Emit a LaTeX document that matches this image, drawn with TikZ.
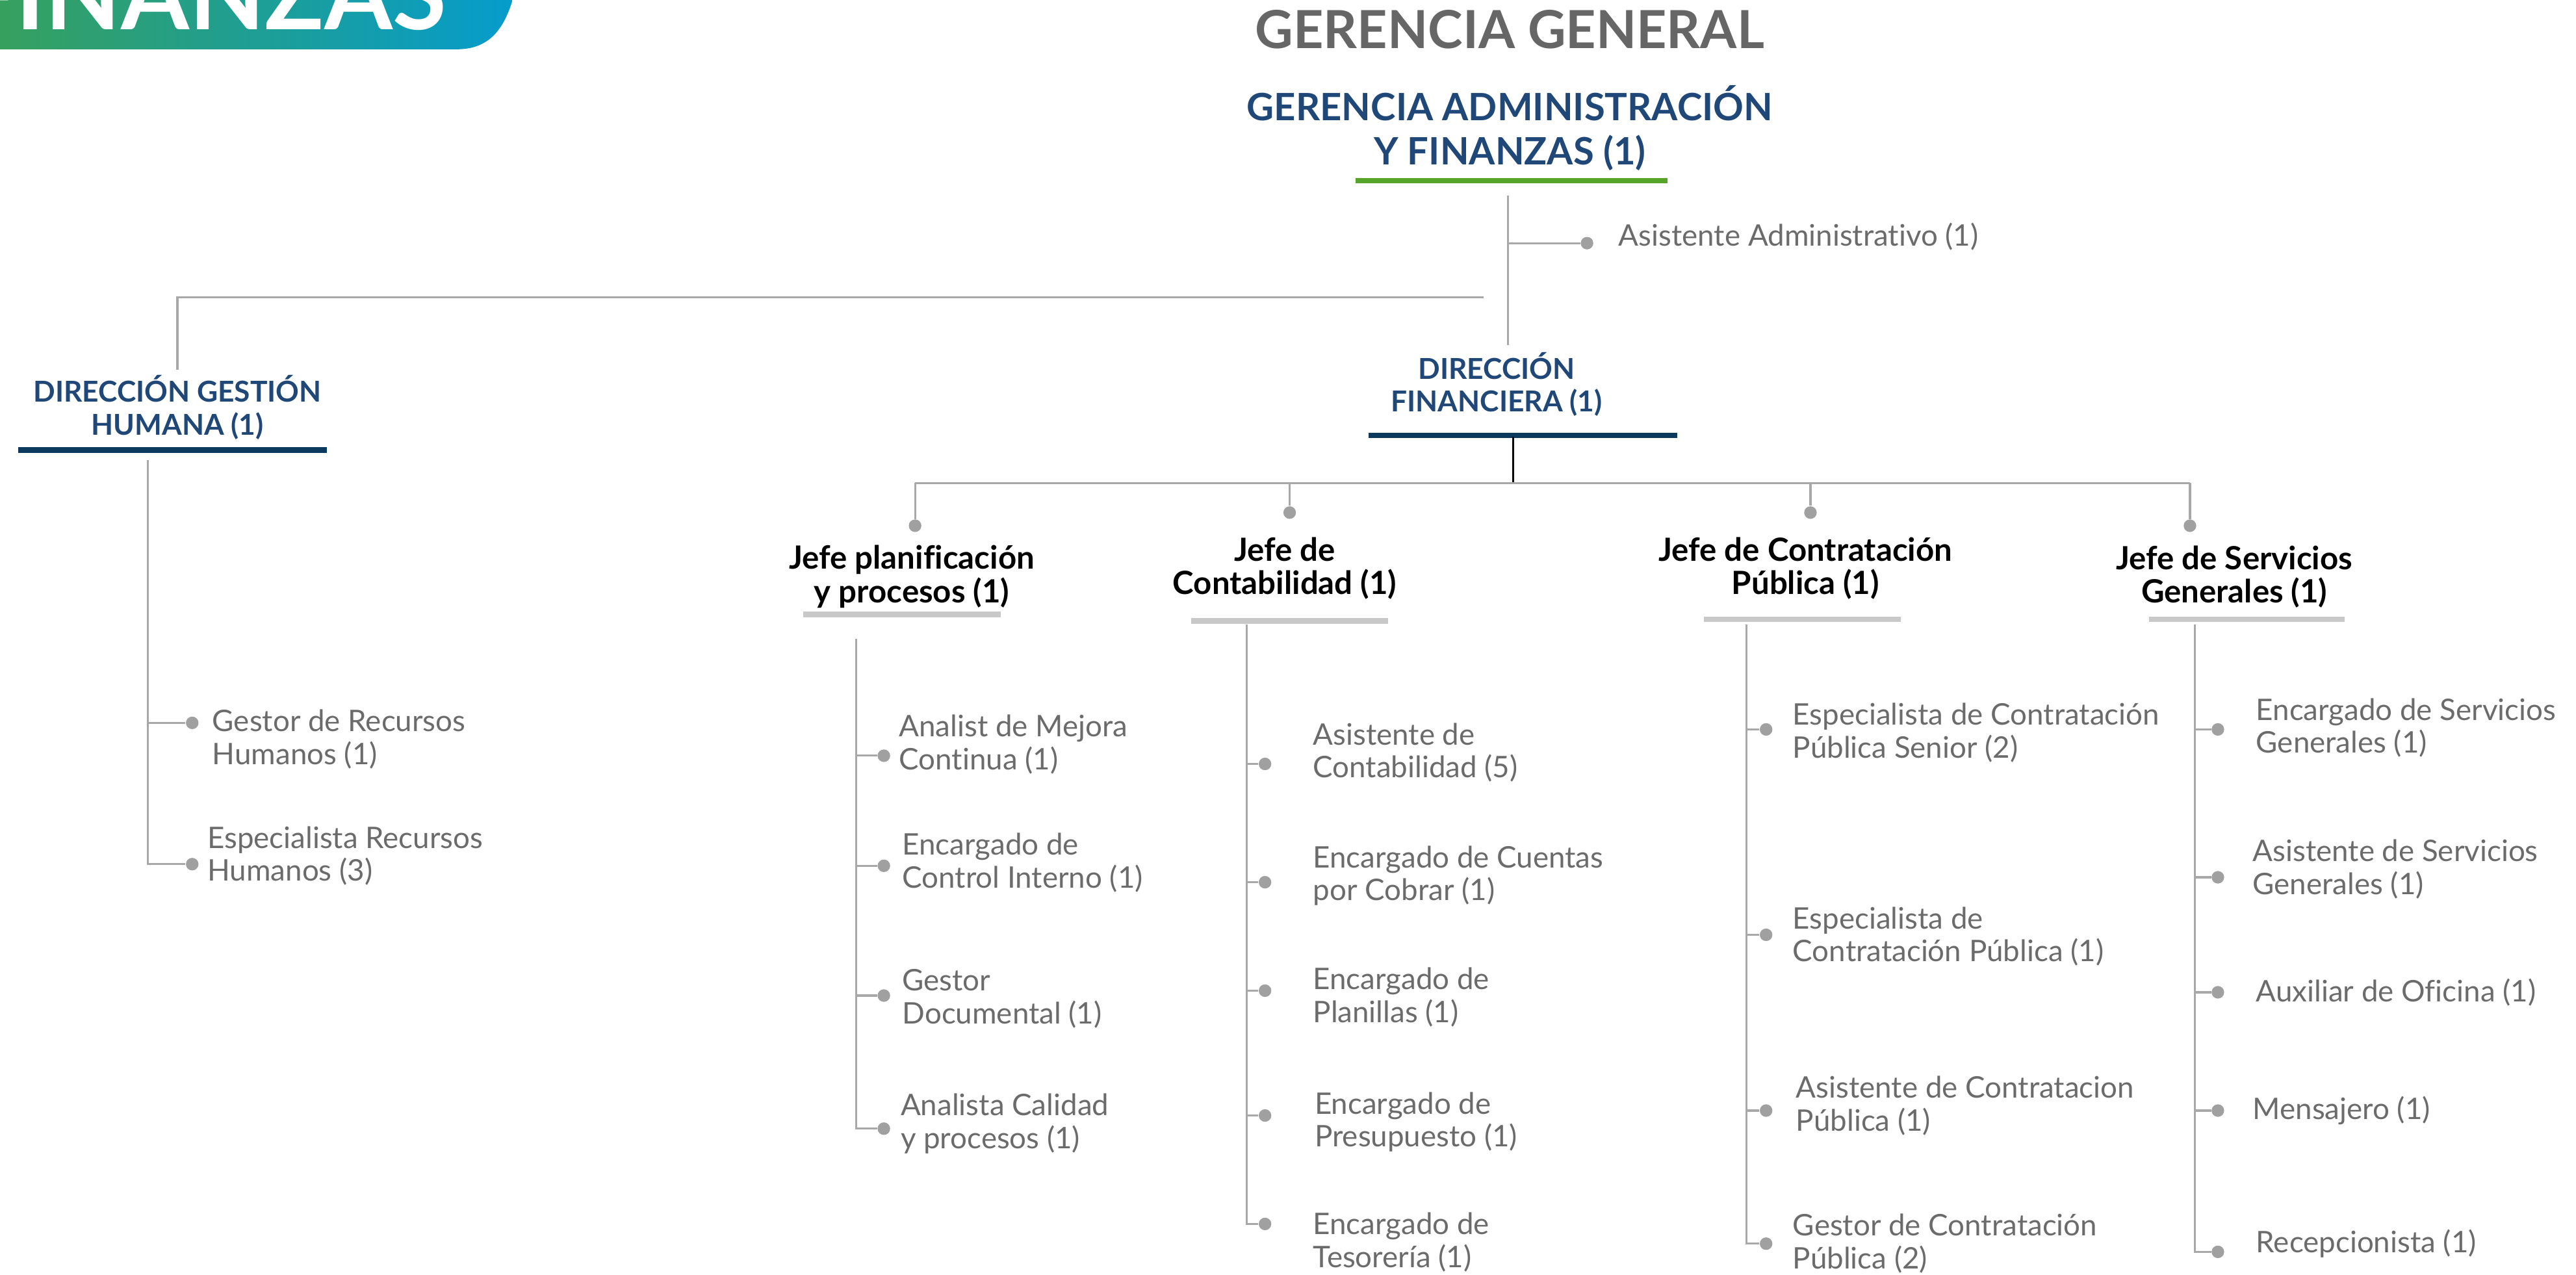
\documentclass[tikz,border=0pt]{standalone}
\usepackage{fontspec}
\setmainfont{Lato}[Ligatures={NoCommon}]
\definecolor{azul}{HTML}{1F4778}
\definecolor{marino}{HTML}{0B3A5E}
\definecolor{verde}{HTML}{56A52A}
\definecolor{gristit}{HTML}{666666}
\definecolor{grisitem}{HTML}{6B6B6B}
\definecolor{grislinea}{HTML}{A8A8A8}
\definecolor{grispunto}{HTML}{A0A0A0}
\definecolor{grisbarra}{HTML}{C8C8C8}
\definecolor{bverde}{HTML}{36A05E}
\definecolor{bazul}{HTML}{059CCD}
\tikzset{
  conn/.style={draw=grislinea, line width=0.9pt},
  bullet/.style={circle, fill=grispunto, inner sep=0pt, minimum size=5.5pt},
  cargo/.style={anchor=west, align=left, inner sep=0pt, text=grisitem,
    font=\fontsize{13}{14.4}\selectfont},
  jefe/.style={align=center, inner sep=0pt, font=\bfseries\fontsize{14}{14.6}\selectfont},
  direccion/.style={align=center, inner sep=0pt, text=azul,
    font=\bfseries\fontsize{12.6}{14.4}\selectfont},
  barra/.style={line width=2.4pt},
}
\begin{document}
\begin{tikzpicture}[x=0.02528cm, y=-0.02528cm]
  \useasboundingbox (0,0) rectangle (1568,776);
  \begin{scope}
    \clip (0,0) -- (312,0) .. controls (306,20) and (296,30) .. (278,30) -- (0,30) -- cycle;
    \shade[left color=bverde, right color=bazul] (0,-5) rectangle (315,35);
    \node[anchor=base east, inner sep=0pt, text=white, font=\bfseries\fontsize{43}{45}\selectfont]
      (banner) at (272,18) {FINANZAS};
  \end{scope}

  \node[text=gristit, font=\bfseries\fontsize{23}{26}\selectfont] (gg) at (919,18) {GERENCIA GENERAL};
  \node[align=center, text=azul, font=\bfseries\fontsize{16.5}{19.4}\selectfont]
    (gaf) at (919,78) {GERENCIA ADMINISTRACIÓN\\Y FINANZAS (1)};
  \draw[verde, barra] (825,110) -- (1015,110);

  \node[bullet] (asis) at (966,148) {};
  \node[cargo] (asist) at (985,144) {Asistente Administrativo (1)};

  \node[direccion] (dgh) at (108,248) {DIRECCIÓN GESTIÓN\\HUMANA (1)};
  \draw[marino, barra] (11,274) -- (199,274);
  \node[direccion] (df) at (911,234) {DIRECCIÓN\\FINANCIERA (1)};
  \draw[marino, barra] (833,265) -- (1021,265);

  \coordinate (gafb) at (918,119);
  \coordinate (dft) at (918,210);
  \coordinate (hrr) at (903,181);
  \coordinate (dght) at (108,225);
  \coordinate (dfb) at (921,266);
  \coordinate (bus) at (921,294);
  \coordinate (busl) at (557,294);
  \coordinate (busr) at (1333,294);

  \node[bullet] (jp) at (557,320) {};
  \node[bullet] (jc) at (785,312) {};
  \node[bullet] (jt) at (1102,312) {};
  \node[bullet] (js) at (1333,320) {};

  \node[jefe] (jpl) at (555,351) {Jefe planificación\\y procesos (1)};
  \node[jefe] (jco) at (782,346) {Jefe de\\Contabilidad (1)};
  \node[jefe] (jcp) at (1099,346) {Jefe de Contratación\\Pública (1)};
  \node[jefe] (jsg) at (1360,351) {Jefe de Servicios\\Generales (1)};
  \draw[grisbarra, barra] (489,374) -- (609,374);
  \draw[grisbarra, barra] (725,378) -- (845,378);
  \draw[grisbarra, barra] (1037,377) -- (1157,377);
  \draw[grisbarra, barra] (1308,377) -- (1427,377);

  \coordinate (hrt) at (90,280);
  \node[bullet] (hr1) at (117,440) {};
  \node[bullet] (hr2) at (117,526) {};
  \node[cargo] at (129,450) {Gestor de Recursos\\Humanos (1)};
  \node[cargo] at (126,521) {Especialista Recursos\\Humanos (3)};

  \coordinate (plt) at (521,389);
  \node[bullet] (pl1) at (538,460) {};
  \node[bullet] (pl2) at (538,527) {};
  \node[bullet] (pl3) at (538,606) {};
  \node[bullet] (pl4) at (538,687) {};
  \node[cargo] at (547,453) {Analist de Mejora\\Continua (1)};
  \node[cargo] at (549,525) {Encargado de\\Control Interno (1)};
  \node[cargo] at (549,608) {Gestor\\Documental (1)};
  \node[cargo] at (548,684) {Analista Calidad\\y procesos (1)};

  \coordinate (cot) at (759,380);
  \node[bullet] (co1) at (770,465) {};
  \node[bullet] (co2) at (770,537) {};
  \node[bullet] (co3) at (770,603) {};
  \node[bullet] (co4) at (770,679) {};
  \node[bullet] (co5) at (770,745) {};
  \node[cargo] at (799,458) {Asistente de\\Contabilidad (5)};
  \node[cargo] at (799,533) {Encargado de Cuentas\\por Cobrar (1)};
  \node[cargo] at (799,607) {Encargado de\\Planillas (1)};
  \node[cargo] at (800,683) {Encargado de\\Presupuesto (1)};
  \node[cargo] at (799,756) {Encargado de\\Tesorería (1)};

  \coordinate (cpt) at (1063,380);
  \node[bullet] (cp1) at (1075,444) {};
  \node[bullet] (cp2) at (1075,569) {};
  \node[bullet] (cp3) at (1075,676) {};
  \node[bullet] (cp4) at (1075,757) {};
  \node[cargo] at (1091,446) {Especialista de Contratación\\Pública Senior (2)};
  \node[cargo] at (1091,570) {Especialista de\\Contratación Pública (1)};
  \node[cargo] at (1093,673) {Asistente de Contratacion\\Pública (1)};
  \node[cargo] at (1091,757) {Gestor de Contratación\\Pública (2)};

  \coordinate (sgt) at (1336,380);
  \node[bullet] (sg1) at (1350,444) {};
  \node[bullet] (sg2) at (1350,534) {};
  \node[bullet] (sg3) at (1350,604) {};
  \node[bullet] (sg4) at (1350,676) {};
  \node[bullet] (sg5) at (1350,762) {};
  \node[cargo] at (1373,443) {Encargado de Servicios\\Generales (1)};
  \node[cargo] at (1371,529) {Asistente de Servicios\\Generales (1)};
  \node[cargo] at (1373,604) {Auxiliar de Oficina (1)};
  \node[cargo] at (1371,676) {Mensajero (1)};
  \node[cargo] at (1373,757) {Recepcionista (1)};

  \begin{scope}[conn]
    \draw (gafb) -- (dft);
    \draw (asis) -- (asis -| gafb);
    \draw (hrr) -| (dght);
    \draw[black] (dfb) -- (bus);
    \draw (busl) -- (busr);
    \draw (busl) -- (jp);
    \draw (jc |- bus) -- (jc);
    \draw (jt |- bus) -- (jt);
    \draw (busr) -- (js);
    \draw (hrt) |- (hr2);
    \draw (hr1) -- (hr1 -| hrt);
    \draw (plt) |- (pl4);
    \draw (pl1) -- (pl1 -| plt);
    \draw (pl2) -- (pl2 -| plt);
    \draw (pl3) -- (pl3 -| plt);
    \draw (cot) |- (co5);
    \draw (co1) -- (co1 -| cot);
    \draw (co2) -- (co2 -| cot);
    \draw (co3) -- (co3 -| cot);
    \draw (co4) -- (co4 -| cot);
    \draw (cpt) |- (cp4);
    \draw (cp1) -- (cp1 -| cpt);
    \draw (cp2) -- (cp2 -| cpt);
    \draw (cp3) -- (cp3 -| cpt);
    \draw (sgt) |- (sg5);
    \draw (sg1) -- (sg1 -| sgt);
    \draw (sg2) -- (sg2 -| sgt);
    \draw (sg3) -- (sg3 -| sgt);
    \draw (sg4) -- (sg4 -| sgt);
  \end{scope}
\end{tikzpicture}
\end{document}
